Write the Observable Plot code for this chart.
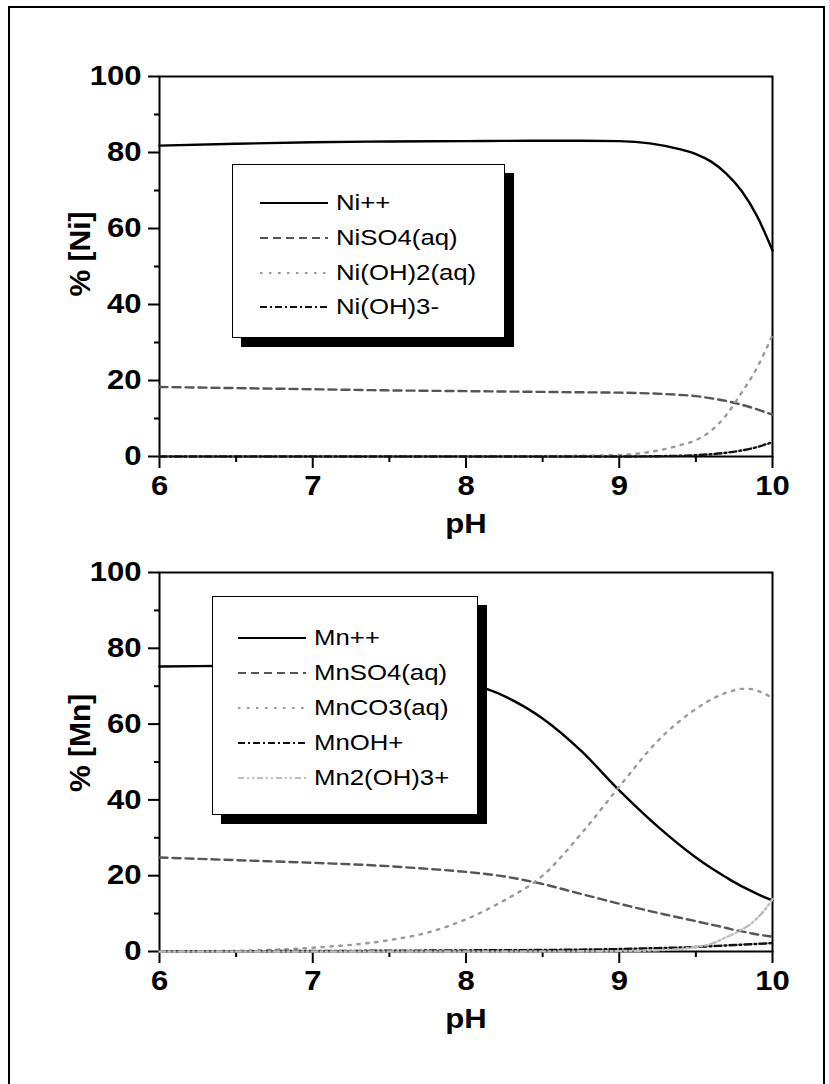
<!DOCTYPE html>
<html>
<head>
<meta charset="utf-8">
<script src="https://cdn.jsdelivr.net/npm/d3@7"></script>
<script src="https://cdn.jsdelivr.net/npm/@observablehq/plot@0.6"></script>
<style>
  html, body { margin: 0; padding: 0; background: #fff; }
  #wrap { position: relative; width: 829px; height: 1084px; overflow: hidden; font-family: "Liberation Sans", Arial, sans-serif; }
  #border { position: absolute; left: 8px; top: 6px; width: 813px; height: 1100px; border: 2px solid #000; }
  .panel { position: absolute; left: 0; }
  .legend { position: absolute; background: #fff; border: 1.5px solid #000; box-sizing: border-box; box-shadow: 9px 9px 0 #000; }
  .legend .row { position: absolute; left: 0; height: 30px; display: flex; align-items: center; white-space: nowrap; }
  .legend .row span { display: inline-block; font-size: 22px; color: #000; line-height: 1; transform: scaleX(1.17); transform-origin: left center; }
</style>
</head>
<body>
<div id="wrap"><div id="border"></div></div>
<script>
// ---------- data ----------
const xTicks = [6, 7, 8, 9, 10];
const xMinorTicks = [6.5, 7.5, 8.5, 9.5];
const yTicks = [0, 20, 40, 60, 80, 100];
const yMinorTicks = [10, 30, 50, 70, 90];

const niPH = [6, 6.5, 7, 7.5, 8, 8.25, 8.5, 8.75, 9, 9.2, 9.4, 9.5, 9.6, 9.7, 9.8, 9.9, 10];
const niPlus = [81.8, 82.3, 82.7, 82.9, 83.0, 83.05, 83.1, 83.1, 83.0, 82.4, 80.8, 79.6, 77.6, 74.4, 69.8, 63.2, 54.2];
const niSO4 = [18.3, 18.0, 17.7, 17.4, 17.2, 17.1, 17.0, 16.9, 16.8, 16.6, 16.2, 15.9, 15.3, 14.6, 13.6, 12.4, 11.0];
const niOH2 = [0, 0, 0, 0, 0, 0.05, 0.1, 0.2, 0.4, 1.2, 3.0, 4.3, 6.8, 11.0, 16.9, 23.4, 32.0];
const niOH3 = [0, 0, 0, 0, 0, 0, 0, 0, 0, 0.05, 0.2, 0.35, 0.6, 1.0, 1.6, 2.5, 3.8];

const mnPH = [6, 6.5, 7, 7.5, 7.75, 8, 8.25, 8.5, 8.75, 9, 9.25, 9.5, 9.6, 9.7, 9.75, 9.8, 9.85, 9.9, 9.95, 10];
const mnPlus = [75.2, 75.4, 75.6, 74.6, 73.2, 71.0, 67.4, 61.5, 53.0, 42.5, 33.0, 24.8, 22.0, 19.5, 18.3, 17.2, 16.2, 15.2, 14.3, 13.5];
const mnSO4 = [24.8, 24.1, 23.4, 22.5, 21.8, 21.0, 19.8, 17.8, 15.2, 12.6, 10.2, 8.0, 7.1, 6.2, 5.7, 5.3, 4.9, 4.5, 4.2, 3.9];
const mnCO3 = [0, 0.2, 1.0, 3.0, 5.0, 8.5, 13.5, 20.0, 31.0, 43.5, 55.5, 64.0, 66.5, 68.3, 68.9, 69.3, 69.3, 68.8, 68.0, 66.8];
const mnOH = [0.1, 0.1, 0.15, 0.2, 0.25, 0.3, 0.35, 0.4, 0.5, 0.65, 0.9, 1.2, 1.4, 1.6, 1.7, 1.8, 1.9, 2.0, 2.1, 2.25];
const mn2OH3 = [0, 0, 0, 0, 0, 0, 0, 0.02, 0.05, 0.1, 0.3, 1.2, 2.0, 3.8, 4.7, 5.8, 7.0, 8.8, 11.0, 13.8];

const niLabels = ["Ni++", "NiSO4(aq)", "Ni(OH)2(aq)", "Ni(OH)3-"];
const mnLabels = ["Mn++", "MnSO4(aq)", "MnCO3(aq)", "MnOH+", "Mn2(OH)3+"];

// ---------- styles ----------
const sSolid = {stroke: "#000", dash: null};
const sDash = {stroke: "#555", dash: "8,5"};
const sDot = {stroke: "#9a9a9a", dash: "2.5,6.5"};
const sDashDot = {stroke: "#111", dash: "7,3,2,3"};
const sDashDotDot = {stroke: "#bdbdbd", dash: "6,3,2,3,2,3"};

const FONT = "'Liberation Sans', Arial, Helvetica, sans-serif";
const STRETCH = 1.15;

function stretchTexts(svg) {
  svg.querySelectorAll("text").forEach(t => {
    const tr = t.getAttribute("transform") || "";
    if (tr.includes("rotate")) return;
    if (tr) {
      t.setAttribute("transform", tr + ` scale(${STRETCH},1)`);
    } else {
      const x = +(t.getAttribute("x") || 0), y = +(t.getAttribute("y") || 0);
      t.setAttribute("x", 0); t.setAttribute("y", 0);
      t.setAttribute("transform", `translate(${x},${y}) scale(${STRETCH},1)`);
    }
  });
}

function panel(pH, seriesList, styles, yLabel, top, height, mTop, mBottom) {
  const lines = seriesList.map((vals, i) => Plot.lineY(vals, {
    x: pH, y: d => d, stroke: styles[i].stroke, strokeWidth: 2.4,
    strokeDasharray: styles[i].dash || undefined, curve: "monotone-x"
  }));
  const svg = Plot.plot({
    width: 829, height, marginLeft: 159, marginRight: 57, marginTop: mTop, marginBottom: mBottom,
    x: {domain: [6, 10]}, y: {domain: [0, 100]},
    style: {fontFamily: FONT, background: "transparent", overflow: "visible", color: "#000"},
    marks: [
      Plot.frame({strokeWidth: 2, stroke: "#000"}),
      Plot.axisX(xTicks, {tickSize: 12, tickPadding: 7, fontSize: 27, fontWeight: "bold", strokeWidth: 2, label: null, tickFormat: d => String(d)}),
      Plot.axisX(xMinorTicks, {tickSize: 6, strokeWidth: 2, label: null, tickFormat: () => ""}),
      Plot.axisY(yTicks, {tickSize: 11, tickPadding: 7, fontSize: 27, fontWeight: "bold", strokeWidth: 2, label: null, tickFormat: d => String(d)}),
      Plot.axisY(yMinorTicks, {tickSize: 5, strokeWidth: 2, label: null, tickFormat: () => ""}),
      ...lines,
      Plot.text(["pH"], {frameAnchor: "bottom", dy: 68, fontSize: 27, fontWeight: "bold", lineAnchor: "middle"}),
      Plot.text([yLabel], {frameAnchor: "left", dx: -79, dy: 30, rotate: -90, fontSize: 30, fontWeight: "bold", lineAnchor: "middle"})
    ]
  });
  stretchTexts(svg);
  svg.classList.add("panel");
  svg.style.top = top + "px";
  return svg;
}

function legend(labels, styles, box, sample, rows) {
  const div = document.createElement("div");
  div.className = "legend";
  Object.assign(div.style, {left: box.left + "px", top: box.top + "px", width: box.w + "px", height: box.h + "px"});
  labels.forEach((lab, i) => {
    const row = document.createElement("div");
    row.className = "row";
    row.style.top = (rows[i] - box.top - 15) + "px";
    const ns = "http://www.w3.org/2000/svg";
    const s = document.createElementNS(ns, "svg");
    s.setAttribute("width", sample.x1 - sample.x0);
    s.setAttribute("height", 10);
    s.style.marginLeft = (sample.x0 - box.left) + "px";
    const l = document.createElementNS(ns, "line");
    l.setAttribute("x1", 0); l.setAttribute("x2", sample.x1 - sample.x0);
    l.setAttribute("y1", 5); l.setAttribute("y2", 5);
    l.setAttribute("stroke", styles[i].stroke);
    l.setAttribute("stroke-width", 2);
    if (styles[i].dash) l.setAttribute("stroke-dasharray", styles[i].dash);
    s.appendChild(l);
    row.appendChild(s);
    const t = document.createElement("span");
    t.textContent = lab;
    t.style.marginLeft = (sample.text - sample.x1) + "px";
    row.appendChild(t);
    div.appendChild(row);
  });
  return div;
}

const wrap = document.getElementById("wrap");
const niStyles = [sSolid, sDash, sDot, sDashDot];
const mnStyles = [sSolid, sDash, sDot, sDashDot, sDashDotDot];

wrap.appendChild(panel(niPH, [niPlus, niSO4, niOH2, niOH3], niStyles, "% [Ni]", 0, 540, 76, 84));
wrap.appendChild(panel(mnPH, [mnPlus, mnSO4, mnCO3, mnOH, mn2OH3], mnStyles, "% [Mn]", 540, 495, 32, 84));

wrap.appendChild(legend(niLabels, niStyles, {left: 232, top: 164, w: 273, h: 174}, {x0: 259, x1: 327, text: 335}, [202, 237, 272, 306]));
wrap.appendChild(legend(mnLabels, mnStyles, {left: 212, top: 596, w: 266, h: 219}, {x0: 237, x1: 305, text: 313}, [637, 672, 707, 742, 777]));
</script>
</body>
</html>
